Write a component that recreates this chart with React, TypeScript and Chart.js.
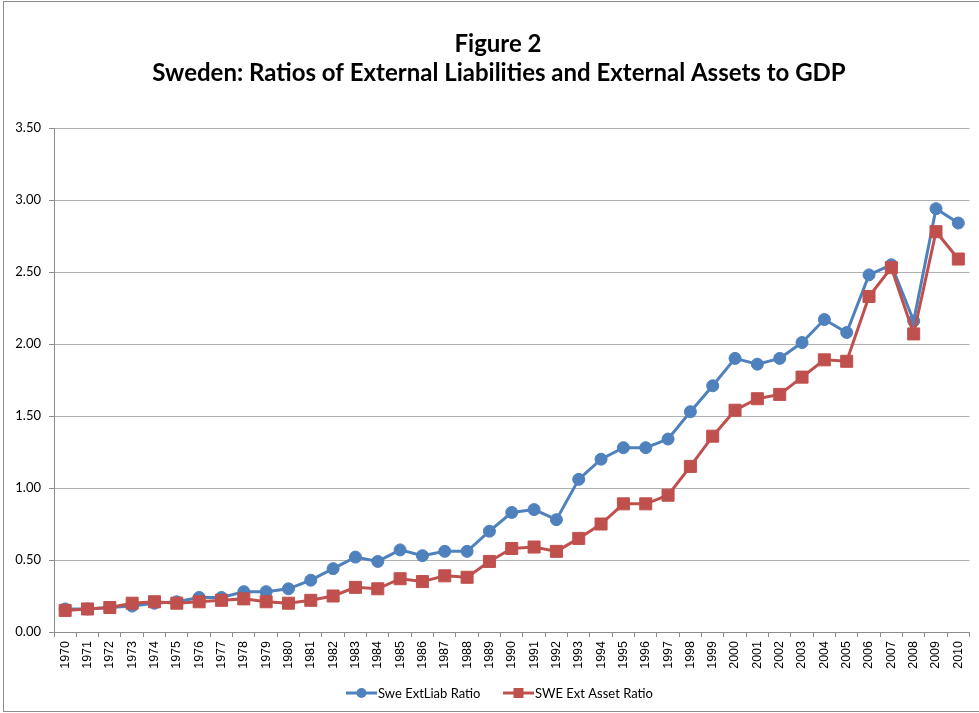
import React, { useEffect, useRef } from 'react';
import { Chart, registerables } from 'chart.js';

Chart.register(...registerables);

const years = [
  '1970', '1971', '1972', '1973', '1974', '1975', '1976', '1977', '1978', '1979',
  '1980', '1981', '1982', '1983', '1984', '1985', '1986', '1987', '1988', '1989',
  '1990', '1991', '1992', '1993', '1994', '1995', '1996', '1997', '1998', '1999',
  '2000', '2001', '2002', '2003', '2004', '2005', '2006', '2007', '2008', '2009',
  '2010',
];

const extLiabRatio = [
  0.16, 0.16, 0.17, 0.18, 0.20, 0.21, 0.24, 0.24, 0.28, 0.28,
  0.30, 0.36, 0.44, 0.52, 0.49, 0.57, 0.53, 0.56, 0.56, 0.70,
  0.83, 0.85, 0.78, 1.06, 1.20, 1.28, 1.28, 1.34, 1.53, 1.71,
  1.90, 1.86, 1.90, 2.01, 2.17, 2.08, 2.48, 2.55, 2.16, 2.94,
  2.84,
];

const extAssetRatio = [
  0.15, 0.16, 0.17, 0.20, 0.21, 0.20, 0.21, 0.22, 0.23, 0.21,
  0.20, 0.22, 0.25, 0.31, 0.30, 0.37, 0.35, 0.39, 0.38, 0.49,
  0.58, 0.59, 0.56, 0.65, 0.75, 0.89, 0.89, 0.95, 1.15, 1.36,
  1.54, 1.62, 1.65, 1.77, 1.89, 1.88, 2.33, 2.53, 2.07, 2.78,
  2.59,
];

const seriesNames = ['Swe ExtLiab Ratio', 'SWE Ext Asset Ratio'];
const titleLines = ['Figure 2', 'Sweden: Ratios of External Liabilities and External Assets to GDP'];
const yMin = 0;
const yMax = 3.5;
const yStep = 0.5;

const BLUE = '#4F81BD';
const RED = '#C0504D';
const FONT = 'Lato, "Open Sans", sans-serif';
const XFONT = '"Liberation Sans", Arial, sans-serif';

const W = 979;
const H = 713;

const framePlugin = {
  id: 'frameAndTitle',
  beforeDraw(chart: any) {
    const ctx = chart.ctx;
    ctx.save();
    ctx.fillStyle = '#ffffff';
    ctx.fillRect(0, 0, W, H);
    ctx.strokeStyle = '#8c8c8c';
    ctx.lineWidth = 1;
    ctx.strokeRect(3.5, 1.5, W + 10, H - 3);
    ctx.restore();
  },
  afterDraw(chart: any) {
    const ctx = chart.ctx;
    ctx.save();
    ctx.fillStyle = '#000000';
    ctx.textAlign = 'center';
    ctx.textBaseline = 'alphabetic';
    ctx.font = `bold 24px ${FONT}`;
    ctx.fillText(titleLines[0], 498, 52);
    ctx.fillText(titleLines[1], 499, 81);

    // legend
    const y = 693;
    const items = [
      { name: seriesNames[0], color: BLUE, style: 'circle', x: 346 },
      { name: seriesNames[1], color: RED, style: 'rect', x: 503 },
    ];
    ctx.font = `13px ${FONT}`;
    ctx.textAlign = 'left';
    ctx.textBaseline = 'middle';
    for (const it of items) {
      ctx.strokeStyle = it.color;
      ctx.lineWidth = 3;
      ctx.beginPath();
      ctx.moveTo(it.x, y);
      ctx.lineTo(it.x + 31, y);
      ctx.stroke();
      ctx.fillStyle = it.color;
      if (it.style === 'circle') {
        ctx.beginPath();
        ctx.arc(it.x + 15.5, y, 5, 0, Math.PI * 2);
        ctx.fill();
      } else {
        ctx.fillRect(it.x + 10.5, y - 5, 10, 10);
      }
      ctx.fillStyle = '#000000';
      ctx.fillText(it.name, it.x + 32, y + 1);
    }
    ctx.restore();
  },
};

export default function App() {
  const ref = useRef<HTMLCanvasElement>(null);

  useEffect(() => {
    document.body.style.margin = '0';
    const canvas = ref.current;
    if (!canvas) return;
    const chart = new Chart(canvas, {
      type: 'line',
      data: {
        labels: years,
        datasets: [
          {
            label: seriesNames[0],
            data: extLiabRatio,
            borderColor: BLUE,
            backgroundColor: BLUE,
            borderWidth: 3,
            pointStyle: 'circle',
            pointRadius: 6,
            pointBorderWidth: 1,
            pointBorderColor: BLUE,
            pointBackgroundColor: BLUE,
            tension: 0,
            order: 1,
          },
          {
            label: seriesNames[1],
            data: extAssetRatio,
            borderColor: RED,
            backgroundColor: RED,
            borderWidth: 3,
            pointStyle: 'rect',
            pointRadius: 8.5,
            pointBorderWidth: 1,
            pointBorderColor: RED,
            pointBackgroundColor: RED,
            tension: 0,
            order: 0,
          },
        ],
      },
      options: {
        responsive: false,
        animation: false,
        devicePixelRatio: 1,
        layout: { padding: { top: 128, right: 8, left: 0, bottom: 0 } },
        plugins: {
          legend: { display: false },
          title: { display: false },
          tooltip: { enabled: false },
        },
        events: [],
        scales: {
          x: {
            type: 'category',
            offset: true,
            grid: {
              display: true,
              drawOnChartArea: false,
              drawTicks: true,
              tickLength: 5,
              offset: true,
              color: '#8c8c8c',
            },
            border: { display: true, color: '#8c8c8c', width: 1 },
            ticks: {
              autoSkip: false,
              minRotation: 90,
              maxRotation: 90,
              padding: 4,
              color: '#000000',
              font: { family: XFONT, size: 12.5 },
            },
            afterFit: (s: any) => {
              s.height = 81;
            },
          },
          y: {
            min: yMin,
            max: yMax,
            ticks: {
              stepSize: yStep,
              padding: 8,
              color: '#000000',
              font: { family: FONT, size: 13 },
              callback: (v: any) => Number(v).toFixed(2),
            },
            grid: {
              color: '#b0b0b0',
              tickLength: 5,
              tickColor: '#8c8c8c',
            },
            border: { display: true, color: '#8c8c8c', width: 1 },
            afterFit: (s: any) => {
              s.width = 54;
            },
          },
        },
      },
      plugins: [framePlugin],
    });
    return () => chart.destroy();
  }, []);

  return (
    <div style={{ width: W, height: H }}>
      <canvas ref={ref} width={W} height={H} style={{ width: W, height: H, display: 'block' }} />
    </div>
  );
}
